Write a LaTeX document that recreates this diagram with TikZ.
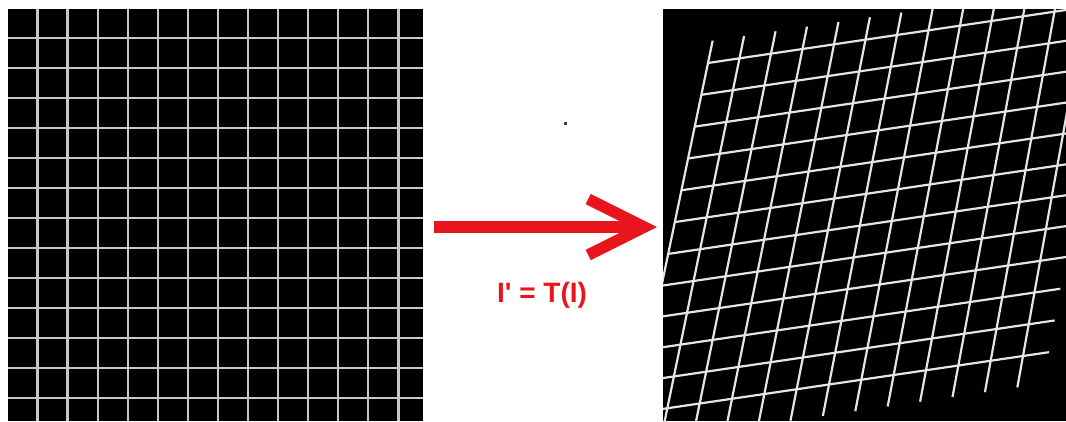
\documentclass[tikz,border=0pt]{standalone}
\usepackage{fontspec}
\newfontfamily\labelfont{Liberation Sans}[Ligatures=TeXOff]
\usetikzlibrary{calc,arrows.meta}
\definecolor{arrowred}{RGB}{232,22,28}
\begin{document}
\begin{tikzpicture}[x=1pt, y=-1pt,
    panel/.style={fill=black},
    gridline/.style={draw=black!22, line width=2.2pt},
    warpline/.style={draw=black!10, line width=2.2pt},
    maparrow/.style={draw=arrowred, line width=11.5pt, -{Straight Barb[length=56pt, width=56pt]}},
    every node/.style={inner sep=0pt}]
  \useasboundingbox (0,0) rectangle (1066,421);
  \fill[panel] (8,9) rectangle (423,421);
  \foreach \k in {0,...,12} {
    \draw[gridline] (37.5+30.08*\k, 9) -- (37.5+30.08*\k, 421);
    \draw[gridline] (8, 38+30*\k) -- (423, 38+30*\k);
  }
  \fill[panel] (663,9) rectangle (1066,421);
  \coordinate (w00) at (708,63);
  \coordinate (w10) at (1086,7);
  \coordinate (w01) at (635,413);
  \coordinate (w11) at (1023,356);
  \begin{scope}
    \clip (663,9) rectangle (1066,421);
    \foreach \i [evaluate=\i as \sv using \i/12] in {0,...,12}
      \draw[warpline] ($($(w00)!\sv!(w10)$)!-0.064!($(w01)!\sv!(w11)$)$) -- ($($(w00)!\sv!(w10)$)!1.09!($(w01)!\sv!(w11)$)$);
    \foreach \j [evaluate=\j as \tv using \j/11] in {0,...,11}
      \draw[warpline] ($(w00)!\tv!(w01)$) -- ($($(w00)!\tv!(w01)$)!1.067!($(w10)!\tv!(w11)$)$);
  \end{scope}
  \coordinate (from) at (434,227);
  \coordinate (to) at (657,227);
  \draw[maparrow] (from) -- (to);
  \node[text=arrowred, font=\labelfont\bfseries\fontsize{28}{28}\selectfont] (map) at (542,295) {I' = T(I)};
  \fill[black!75] (564,122) rectangle (567,125);
\end{tikzpicture}
\end{document}
